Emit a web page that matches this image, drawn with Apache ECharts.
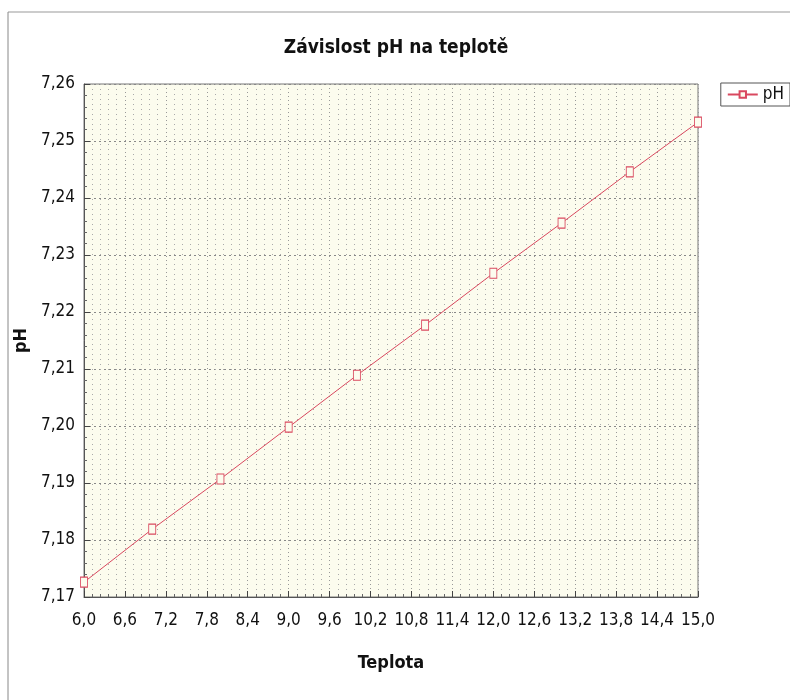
<!DOCTYPE html>
<html>
<head>
<meta charset="utf-8">
<script src="https://cdn.jsdelivr.net/npm/echarts@6/dist/echarts.min.js"></script>
<style>
  html, body { margin: 0; padding: 0; background: #fff; }
  #chart { width: 790px; height: 700px; }
</style>
</head>
<body>
<div id="chart"></div>
<script>
var teplota = [6, 7, 8, 9, 10, 11, 12, 13, 14, 15];
var ph = [7.1726, 7.1819, 7.1907, 7.1998, 7.2089, 7.2177, 7.2268, 7.2356, 7.2446, 7.2533];

var font = "'DejaVu Sans Condensed', 'Liberation Sans Narrow', 'Arial Narrow', 'Liberation Sans', sans-serif";
var red = '#d9485f';

var chart = echarts.init(document.getElementById('chart'));

var points = teplota.map(function (t, i) { return [t, ph[i]]; });

chart.setOption({
    backgroundColor: '#fff',
    animation: false,
    title: {
        text: 'Závislost pH na teplotě',
        left: 391,
        top: 34,
        textAlign: 'center',
        textStyle: { fontFamily: font, fontSize: 19, fontWeight: 'bold', color: '#111' }
    },
    legend: {
        right: 0,
        top: 83,
        itemWidth: 30,
        itemHeight: 8,
        padding: [3, 6, 3, 6],
        borderColor: '#555',
        borderWidth: 1,
        borderRadius: 0,
        textStyle: { fontFamily: font, fontSize: 17, color: '#111' },
        data: ['pH']
    },
    grid: { left: 84, right: 92, top: 84, bottom: 103, show: true, backgroundColor: '#fcfcee', borderColor: '#777', borderWidth: 1 },
    xAxis: {
        type: 'value',
        min: 6,
        max: 15,
        interval: 0.6,
        name: 'Teplota',
        nameLocation: 'middle',
        nameGap: 57,
        nameTextStyle: { fontFamily: font, fontSize: 18, fontWeight: 'bold', color: '#111' },
        axisLine: { show: true, onZero: false, lineStyle: { color: '#555' } },
        axisTick: { inside: true, length: 6, lineStyle: { color: '#444' } },
        minorTick: { show: true, splitNumber: 5, length: 3, lineStyle: { color: '#666' } },
        axisLabel: {
            fontFamily: font, fontSize: 17, color: '#111', margin: 15,
            formatter: function (v) { return v.toFixed(1).replace('.', ','); }
        },
        splitLine: { show: true, lineStyle: { color: '#999', type: [1, 3] } },
        minorSplitLine: { show: true, lineStyle: { color: '#aaa', type: [1, 4] } }
    },
    yAxis: {
        type: 'value',
        min: 7.17,
        max: 7.26,
        interval: 0.01,
        name: 'pH',
        nameLocation: 'middle',
        nameGap: 54,
        nameTextStyle: { fontFamily: font, fontSize: 18, fontWeight: 'bold', color: '#111' },
        axisLine: { show: true, lineStyle: { color: '#555' } },
        axisTick: { inside: true, length: 6, lineStyle: { color: '#444' } },
        minorTick: { show: true, splitNumber: 5, length: 3, lineStyle: { color: '#666' } },
        axisLabel: {
            fontFamily: font, fontSize: 17, color: '#111', margin: 9,
            formatter: function (v) { return v.toFixed(2).replace('.', ','); }
        },
        splitLine: { show: true, lineStyle: { color: '#888', type: [2, 3] } }
    },
    series: [{
        name: 'pH',
        type: 'line',
        data: points,
        symbol: 'rect',
        symbolSize: [7, 10],
        showAllSymbol: true,
        lineStyle: { color: red, width: 1 },
        itemStyle: { color: '#fcfcee', borderColor: red, borderWidth: 1 },
        clip: false
    }],
    graphic: [
        { type: 'line', shape: { x1: 8, y1: 12, x2: 790, y2: 12 }, style: { stroke: '#999', lineWidth: 1 } },
        { type: 'line', shape: { x1: 8, y1: 12, x2: 8, y2: 700 }, style: { stroke: '#888', lineWidth: 1 } }
    ]
});
</script>
</body>
</html>
